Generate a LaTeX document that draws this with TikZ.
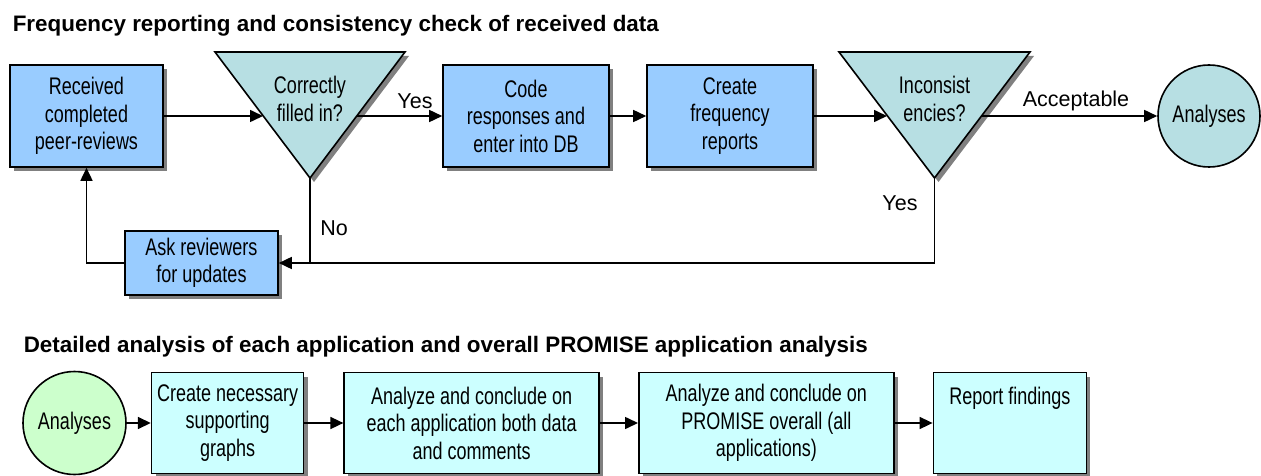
\documentclass[tikz,border=0pt]{standalone}
\usepackage{fontspec}
\setmainfont{Liberation Sans}
\newfontfamily\narrowfont[FakeStretch=0.75]{Liberation Sans}
\newcommand\boxfont{\narrowfont\fontsize{24}{27.5}\selectfont}
\usetikzlibrary{arrows.meta,positioning,shadows}
\definecolor{boxblue}{HTML}{99CCFF}
\definecolor{decteal}{HTML}{B7DFE3}
\definecolor{paleaqua}{HTML}{CCFFFF}
\definecolor{palegreen}{HTML}{CCFFCC}
\definecolor{shadowgray}{HTML}{808080}

\begin{document}
\begin{tikzpicture}[x=1pt,y=-1pt,line width=1.6pt,
    >={Triangle[length=13pt,width=12pt]},
    shade4/.style={drop shadow={shadow xshift=4pt,shadow yshift=-4pt,fill=shadowgray,opacity=1}},
    stepbox/.style={draw,rectangle,inner sep=0pt,align=center,font=\boxfont,shade4},
    bluebox/.style={stepbox,fill=boxblue},
    aquabox/.style={stepbox,fill=paleaqua,minimum height=101pt},
    dec/.style={draw,fill=decteal,line join=miter,shade4},
    endcirc/.style={draw,circle,inner sep=0pt,font=\boxfont},
    boxtext/.style={align=center,font=\boxfont,inner sep=0pt},
    lbl/.style={font=\fontsize{21.5}{26}\selectfont,inner sep=0pt},
    heading/.style={font=\bfseries\fontsize{22.4}{26}\selectfont,inner sep=0pt,anchor=base west}]
    \useasboundingbox (0,0) rectangle (1261,476);

    % first part
    \node[heading] (head1) at (12,32) {Frequency reporting and consistency check of received data};

    \node[bluebox,minimum width=153pt,minimum height=102pt] (recv) at (86.5,116) {Received\\completed\\peer-reviews};

    % correctly filled in
    \draw[dec] (215,52) -- (405,52) -- (310,178) -- cycle;
    \node[boxtext] (chk) at (310,99) {Correctly\\filled in?};
    \coordinate (chkin) at (263,116);
    \coordinate (chkout) at (357,116);
    \coordinate (chkbot) at (310,178);

    \node[bluebox,minimum width=166pt,minimum height=102pt] (code) at (526,116) {Code\\responses and\\enter into DB};
    \node[bluebox,minimum width=166pt,minimum height=102pt] (freq) at (730,116) {Create\\frequency\\reports};

    % inconsistencies
    \draw[dec] (839,52) -- (1030,52) -- (934.5,178) -- cycle;
    \node[boxtext] (inc) at (934.5,99) {Inconsist\\encies?};
    \coordinate (incin) at (887,116);
    \coordinate (incout) at (982,116);
    \coordinate (incbot) at (934.5,178);

    \node[endcirc,fill=decteal,minimum size=102pt] (ana1) at (1209,116) {Analyses};

    \node[bluebox,minimum width=153pt,minimum height=64pt] (ask) at (201.5,263) {Ask reviewers\\for updates};

    \draw[->] (recv) -- (chkin);
    \draw[->] (chkout) -- (code);
    \draw[->] (code) -- (freq);
    \draw[->] (freq) -- (incin);
    \draw[->] (incout) -- (ana1);
    \draw[->] (incbot) |- (ask.east);
    \draw (chkbot) -- (chkbot |- ask.east);
    \draw[->] (ask.west) -| (recv.south);

    \node[lbl] (yes1) at (415,101) {Yes};
    \node[lbl] (acc) at (1076,101) {Acceptable};
    \node[lbl] (no1) at (334,228) {No};
    \node[lbl] (yes2) at (900,203) {Yes};

    % second part
    \node[heading] (head2) at (23,352) {Detailed analysis of each application and overall PROMISE application analysis};

    \node[endcirc,fill=palegreen,minimum size=103pt] (ana2) at (74.5,423) {Analyses};
    \node[aquabox,minimum width=152pt,right=24pt of ana2] (graphs) {Create necessary\\supporting\\graphs};
    \node[aquabox,minimum width=255pt,right=39pt of graphs] (each) {Analyze and conclude on\\each application both data\\and comments};
    \node[aquabox,minimum width=255pt,right=38pt of each] (overall) {Analyze and conclude on\\PROMISE overall (all\\applications)};
    \node[aquabox,minimum width=153pt,right=38pt of overall] (report) {Report findings\\~\\~};

    \draw[->] (ana2) -- (graphs);
    \draw[->] (graphs) -- (each);
    \draw[->] (each) -- (overall);
    \draw[->] (overall) -- (report);
\end{tikzpicture}
\end{document}
